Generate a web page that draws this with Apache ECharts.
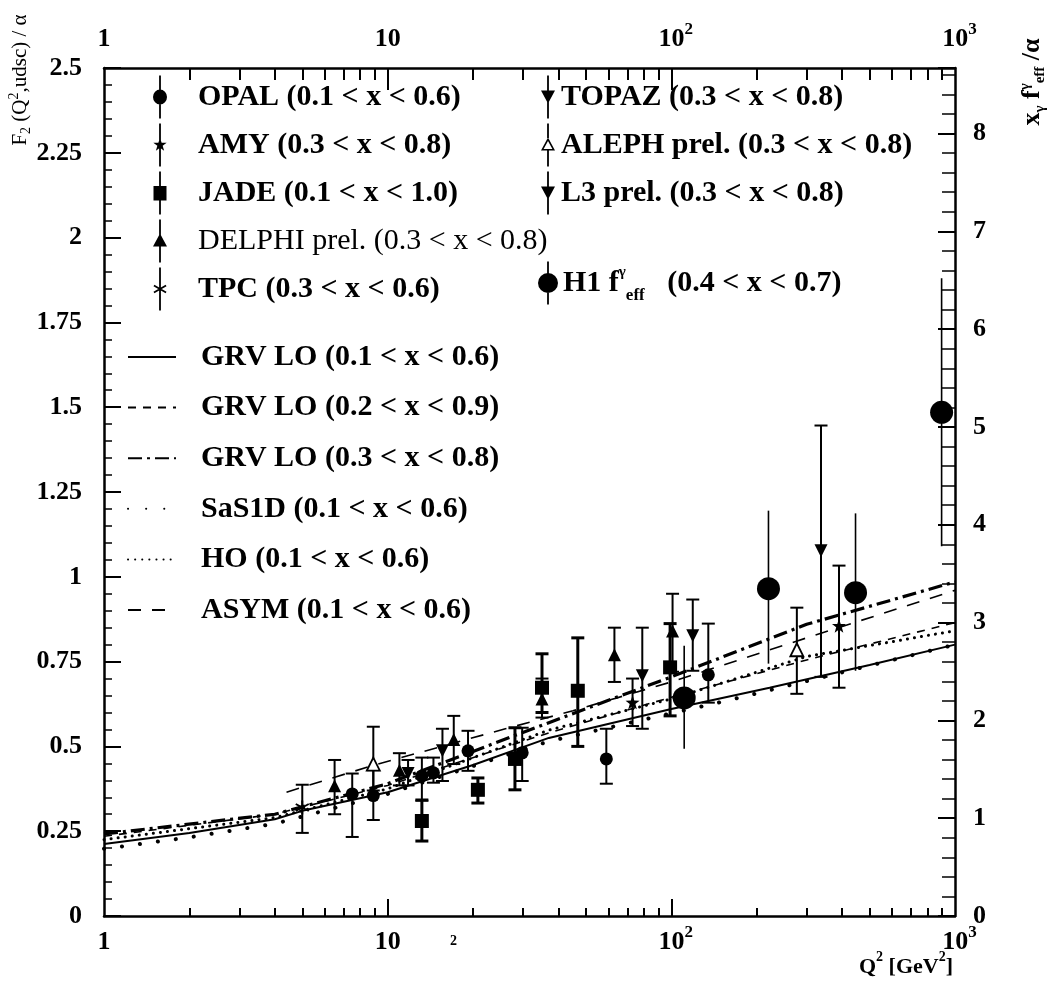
<!DOCTYPE html>
<html>
<head>
<meta charset="utf-8">
<script src="https://cdn.jsdelivr.net/npm/echarts@6/dist/echarts.min.js"></script>
<style>
  html, body { margin: 0; padding: 0; background: #ffffff; }
  #chart { width: 1057px; height: 1000px; }
</style>
</head>
<body>
<div id="chart"></div>
<script>
// ---------- axis ticks ----------
const decadeTicks = [1, 10, 100, 1000];
const majorTicks = [10, 100];
const minorTicks = [2, 3, 4, 5, 6, 7, 8, 9, 20, 30, 40, 50, 60, 70, 80, 90, 200, 300, 400, 500, 600, 700, 800, 900];
const rightMax = 8.67;   // x_gamma f_eff / alpha scale at F2/alpha = 2.5

// ---------- measurements: Q^2 [GeV^2], F2/alpha, lower and upper error ----------
const opalQ2 = [7.5, 8.9, 13.2, 14.5, 19.2, 29.8, 59, 135];
const opalF2 = [0.36, 0.355, 0.413, 0.422, 0.487, 0.481, 0.463, 0.711];
const opalLo = [0.233, 0.283, 0.34, 0.393, 0.428, 0.398, 0.39, 0.629];
const opalHi = [0.42, 0.43, 0.467, 0.467, 0.546, 0.555, 0.552, 0.862];

const amyQ2 = [73, 390];
const amyF2 = [0.63, 0.856];
const amyLo = [0.56, 0.673];
const amyHi = [0.70, 1.033];

const jadeQ2 = [13.2, 20.8, 28.1, 35, 46.8, 99];
const jadeF2 = [0.28, 0.372, 0.463, 0.673, 0.664, 0.733];
const jadeLo = [0.221, 0.333, 0.372, 0.60, 0.50, 0.59];
const jadeHi = [0.342, 0.407, 0.555, 0.773, 0.82, 0.862];

const delphiQ2 = [6.5, 11.0, 17.1, 35, 63, 101];
const delphiF2 = [0.384, 0.43, 0.52, 0.64, 0.77, 0.84];
const delphiLo = [0.30, 0.385, 0.448, 0.585, 0.69, 0.72];
const delphiHi = [0.46, 0.48, 0.59, 0.70, 0.85, 0.95];

const tpcQ2 = [5.0];
const tpcF2 = [0.32];
const tpcLo = [0.245];
const tpcHi = [0.387];

const topazQ2 = [15.6, 79];
const topazF2 = [0.487, 0.708];
const topazLo = [0.398, 0.552];
const topazHi = [0.552, 0.85];

const alephQ2 = [8.9, 277];
const alephF2 = [0.448, 0.785];
const alephLo = [0.37, 0.655];
const alephHi = [0.558, 0.909];

const l3Q2 = [11.8, 119, 337];
const l3F2 = [0.42, 0.826, 1.077];
const l3Lo = [0.385, 0.723, 0.705];
const l3Hi = [0.46, 0.933, 1.446];

const h1Q2 = [111, 220, 446, 897];
const h1F2 = [0.643, 0.965, 0.953, 1.485];
const h1Lo = [0.493, 0.744, 0.723, 1.09];
const h1Hi = [0.797, 1.195, 1.187, 1.88];

// ---------- predictions ----------
const grv1Q2 = [1, 2, 4, 5, 10, 20, 37, 100, 222, 500, 1000];
const grv1F2 = [0.212, 0.245, 0.285, 0.31, 0.365, 0.445, 0.525, 0.61, 0.673, 0.74, 0.80];

const grv2Q2 = [1, 4, 10, 37, 100, 300, 1000];
const grv2F2 = [0.235, 0.30, 0.385, 0.54, 0.645, 0.755, 0.865];

const grv3Q2 = [1, 4, 10, 37, 100, 300, 1000];
const grv3F2 = [0.242, 0.30, 0.39, 0.57, 0.705, 0.86, 0.985];

const sasQ2 = [1, 2, 4, 10, 37, 161, 1000];
const sasF2 = [0.198, 0.232, 0.272, 0.36, 0.515, 0.637, 0.80];

const hoQ2 = [1, 4, 10, 37, 100, 300, 1000];
const hoF2 = [0.225, 0.29, 0.375, 0.548, 0.64, 0.765, 0.841];

const asymQ2 = [4.4, 8.8, 26, 45, 100, 300, 1000];
const asymF2 = [0.365, 0.443, 0.552, 0.605, 0.69, 0.82, 0.96];

// ---------- labels ----------
const names = {
  opal: 'OPAL (0.1 < x < 0.6)',
  amy: 'AMY (0.3 < x < 0.8)',
  jade: 'JADE (0.1 < x < 1.0)',
  delphi: 'DELPHI prel. (0.3 < x < 0.8)',
  tpc: 'TPC (0.3 < x < 0.6)',
  topaz: 'TOPAZ (0.3 < x < 0.8)',
  aleph: 'ALEPH prel. (0.3 < x < 0.8)',
  l3: 'L3 prel. (0.3 < x < 0.8)',
  h1: 'H1 (0.4 < x < 0.7)',
  grv1: 'GRV LO (0.1 < x < 0.6)',
  grv2: 'GRV LO (0.2 < x < 0.9)',
  grv3: 'GRV LO (0.3 < x < 0.8)',
  sas: 'SaS1D (0.1 < x < 0.6)',
  ho: 'HO (0.1 < x < 0.6)',
  asym: 'ASYM (0.1 < x < 0.6)'
};

const SERIF = '"Liberation Serif", "Times New Roman", serif';
const LEGEND_SIZE = 30;

// ---------- marker shapes ----------
const STAR = 'path://M7 0.5L8.646 5.235L13.657 5.337L9.663 8.365L11.114 13.163L7 10.3L2.886 13.163L4.337 8.365L0.343 5.337L5.354 5.235Z';
const ASTERISK = 'path://M6.1 0H7.9V14H6.1Z M0.488 4.279L1.388 2.721L13.512 9.721L12.612 11.279Z M12.612 2.721L13.512 4.279L1.388 11.279L0.488 9.721Z';

// legend icons: marker with its vertical error bar
const BAR = 'M6.1 0H7.9V43H6.1Z ';
const icon = {
  opal: 'path://' + BAR + 'M0 21.5A7 7.5 0 1 1 14 21.5A7 7.5 0 1 1 0 21.5Z',
  amy: 'path://' + BAR + 'M7 14.5L8.646 19.235L13.657 19.337L9.663 22.365L11.114 27.163L7 24.3L2.886 27.163L4.337 22.365L0.343 19.337L5.354 19.235Z',
  jade: 'path://' + BAR + 'M0.5 14.5H13.5V29H0.5Z',
  delphi: 'path://' + BAR + 'M7 14L14 27L0 27Z',
  tpc: 'path://' + BAR + 'M0.488 18.779L1.388 17.221L13.512 24.221L12.612 25.779Z M12.612 17.221L13.512 18.779L1.388 25.779L0.488 24.221Z',
  down: 'path://' + BAR + 'M0 15L14 15L7 28Z',
  aleph: 'path://M6.1 0H7.9V14.5H6.1Z M6.1 27H7.9V43H6.1Z M7 14L14 27L0 27Z M7 17.6L2.6 25.4L11.4 25.4Z',
  h1: 'path://M9.1 0H10.9V43H9.1Z M0 21.5A10 10 0 1 1 20 21.5A10 10 0 1 1 0 21.5Z'
};

// ---------- helpers ----------
function pts(q, v) { return q.map((x, i) => [x, v[i]]); }
function spans(q, lo, hi) { return q.map((x, i) => [x, lo[i], hi[i]]); }

function errorBars(key, data, capHalf, width) {
  return {
    name: key + '-err', type: 'custom', z: 3, silent: true, animation: false,
    encode: { x: 0, y: [1, 2] },
    data: data,
    renderItem(params, api) {
      const lo = api.coord([api.value(0), api.value(1)]);
      const hi = api.coord([api.value(0), api.value(2)]);
      const style = { stroke: '#000', lineWidth: width };
      const children = [{ type: 'line', shape: { x1: lo[0], y1: lo[1], x2: hi[0], y2: hi[1] }, style: style }];
      if (capHalf > 0) {
        children.push({ type: 'line', shape: { x1: lo[0] - capHalf, y1: lo[1], x2: lo[0] + capHalf, y2: lo[1] }, style: style });
        children.push({ type: 'line', shape: { x1: hi[0] - capHalf, y1: hi[1], x2: hi[0] + capHalf, y2: hi[1] }, style: style });
      }
      return { type: 'group', children: children };
    }
  };
}

function markers(name, data, symbol, size, extra) {
  const base = {
    name: name, type: 'scatter', data: data, symbol: symbol, symbolSize: size, z: 5,
    itemStyle: { color: '#000', opacity: 1 }, animation: false, silent: true
  };
  const s = Object.assign(base, extra || {});
  s.itemStyle = Object.assign({ color: '#000', opacity: 1 }, (extra && extra.itemStyle) || {});
  return s;
}

function curve(name, q, v, lineStyle) {
  return {
    name: name, type: 'line', data: pts(q, v), symbol: 'none', showSymbol: false, smooth: false, z: 2,
    lineStyle: Object.assign({ color: '#000', opacity: 1 }, lineStyle), itemStyle: { color: '#000' },
    animation: false, silent: true
  };
}

// ---------- axes ----------
const labelRich = {
  n: { fontFamily: SERIF, fontWeight: 'bold', fontSize: 26, color: '#000', lineHeight: 34, verticalAlign: 'bottom' },
  s: { fontFamily: SERIF, fontWeight: 'bold', fontSize: 17, color: '#000', lineHeight: 20, padding: [0, 0, 14, 0], verticalAlign: 'bottom' },
  p: { width: 9, lineHeight: 20 }
};
function decadeLabel(v) {
  const e = Math.round(Math.log10(v));
  if (e === 0) return '{n|1}';
  if (e === 1) return '{n|10}';
  return '{p|}{n|10}{s|' + e + '}';
}
function xAx(position, opts) {
  return Object.assign({
    type: 'log', logBase: 10, min: 1, max: 1000, position: position, gridIndex: 0,
    axisLine: { show: false, onZero: false }, axisTick: { show: false }, axisLabel: { show: false },
    splitLine: { show: false }, minorTick: { show: false }, minorSplitLine: { show: false }
  }, opts);
}
const frameLine = { show: true, onZero: false, lineStyle: { color: '#000', width: 2.5 } };
const legendText = { fontFamily: SERIF, fontWeight: 'bold', fontSize: LEGEND_SIZE, color: '#000', lineHeight: 30 };

const option = {
  animation: false,
  backgroundColor: '#ffffff',
  textStyle: { fontFamily: SERIF, color: '#000' },
  grid: { left: 104, right: 102, top: 68, bottom: 84, containLabel: false },
  xAxis: [
    xAx('bottom', {
      axisLine: frameLine,
      axisTick: { show: true, inside: true, length: 17, customValues: majorTicks, lineStyle: { color: '#000', width: 2 } },
      axisLabel: { show: true, customValues: decadeTicks, margin: 5, formatter: decadeLabel, rich: labelRich }
    }),
    xAx('bottom', {
      axisTick: { show: true, inside: true, length: 8, customValues: minorTicks, lineStyle: { color: '#000', width: 2 } }
    }),
    xAx('top', {
      axisLine: frameLine,
      axisTick: { show: true, inside: true, length: 22, customValues: majorTicks, lineStyle: { color: '#000', width: 2 } },
      axisLabel: { show: true, customValues: decadeTicks, margin: 16, formatter: decadeLabel, rich: labelRich }
    }),
    xAx('top', {
      axisTick: { show: true, inside: true, length: 12, customValues: minorTicks, lineStyle: { color: '#000', width: 2 } }
    })
  ],
  yAxis: [
    {
      type: 'value', position: 'left', min: 0, max: 2.5, interval: 0.25,
      axisLine: frameLine,
      axisTick: { show: true, inside: true, length: 17, lineStyle: { color: '#000', width: 2 } },
      minorTick: { show: true, splitNumber: 5, length: 8, lineStyle: { color: '#000', width: 1.5 } },
      splitLine: { show: false },
      axisLabel: { color: '#000', fontFamily: SERIF, fontWeight: 'bold', fontSize: 26, margin: 22 }
    },
    {
      type: 'value', position: 'right', min: 0, max: rightMax, interval: 1,
      axisLine: frameLine,
      axisTick: { show: true, inside: true, length: 17, lineStyle: { color: '#000', width: 2 } },
      minorTick: { show: true, splitNumber: 5, length: 13, lineStyle: { color: '#000', width: 1.5 } },
      splitLine: { show: false },
      axisLabel: { color: '#000', fontFamily: SERIF, fontWeight: 'bold', fontSize: 26, margin: 18, showMaxLabel: false,
        formatter: v => (Math.abs(v - Math.round(v)) < 1e-6 ? String(Math.round(v)) : '') }
    }
  ],
  legend: [
    {
      data: [
        { name: names.opal, icon: icon.opal },
        { name: names.amy, icon: icon.amy },
        { name: names.jade, icon: icon.jade },
        { name: names.delphi, icon: icon.delphi, textStyle: { fontWeight: 'normal' } },
        { name: names.tpc, icon: icon.tpc }
      ],
      left: 153, top: 75.5, orient: 'vertical', itemWidth: 14, itemHeight: 43, itemGap: 5, padding: 0,
      selectedMode: false, itemStyle: { color: '#000', opacity: 1 },
      textStyle: Object.assign({ padding: [0, 0, 0, 26] }, legendText)
    },
    {
      data: [
        { name: names.topaz, icon: icon.down },
        { name: names.aleph, icon: icon.aleph, itemStyle: { color: '#000', borderWidth: 0, opacity: 1 } },
        { name: names.l3, icon: icon.down }
      ],
      left: 541, top: 75.5, orient: 'vertical', itemWidth: 14, itemHeight: 43, itemGap: 5, padding: 0,
      selectedMode: false, itemStyle: { color: '#000', opacity: 1 },
      textStyle: Object.assign({ padding: [0, 0, 0, 1] }, legendText)
    },
    {
      data: [{ name: names.h1, icon: icon.h1 }],
      left: 538, top: 261.5, orient: 'vertical', itemWidth: 20, itemHeight: 43, padding: 0,
      selectedMode: false, itemStyle: { color: '#000', opacity: 1 },
      formatter: () => '{t|H1 f}{g|γ}{e|eff}{t|   (0.4 < x < 0.7)}',
      textStyle: {
        fontFamily: SERIF, fontWeight: 'bold', fontSize: LEGEND_SIZE, color: '#000',
        rich: {
          t: { fontFamily: SERIF, fontWeight: 'bold', fontSize: LEGEND_SIZE, lineHeight: 30, verticalAlign: 'middle' },
          g: { fontFamily: SERIF, fontWeight: 'bold', fontSize: 15, lineHeight: 15, padding: [0, 0, 22, 0], verticalAlign: 'middle' },
          e: { fontFamily: SERIF, fontWeight: 'bold', fontSize: 17, lineHeight: 17, padding: [26, 0, 0, 0], verticalAlign: 'middle' }
        }
      }
    },
    {
      data: [names.grv1, names.grv2, names.grv3, names.sas, names.ho, names.asym],
      left: 127, top: 342, orient: 'vertical', itemWidth: 48, itemHeight: 30, itemGap: 20.6, padding: 0,
      selectedMode: false,
      itemStyle: { opacity: 0 },
      textStyle: Object.assign({ padding: [0, 0, 0, 20] }, legendText)
    }
  ],
  graphic: [
    {
      type: 'text', x: 20, y: 80, rotation: Math.PI / 2,
      style: {
        text: '{a|F}{b|2}{a| (Q}{c|2}{a|,udsc) / α}',
        align: 'center', verticalAlign: 'middle', fill: '#000',
        rich: {
          a: { fontFamily: SERIF, fontSize: 21, fill: '#000', lineHeight: 28, verticalAlign: 'middle' },
          b: { fontFamily: SERIF, fontSize: 14, fill: '#000', lineHeight: 14, padding: [12, 0, 0, 0], verticalAlign: 'middle' },
          c: { fontFamily: SERIF, fontSize: 14, fill: '#000', lineHeight: 14, padding: [0, 0, 12, 0], verticalAlign: 'middle' }
        }
      }
    },
    {
      type: 'text', x: 1032, y: 82, rotation: Math.PI / 2,
      style: {
        text: '{a|x}{b|γ}{a| f}{c|γ}{b|eff}{a| /α}',
        align: 'center', verticalAlign: 'middle', fill: '#000',
        rich: {
          a: { fontFamily: SERIF, fontWeight: 'bold', fontSize: 26, fill: '#000', lineHeight: 30, verticalAlign: 'middle' },
          b: { fontFamily: SERIF, fontWeight: 'bold', fontSize: 15, fill: '#000', lineHeight: 15, padding: [16, 0, 0, 0], verticalAlign: 'middle' },
          c: { fontFamily: SERIF, fontWeight: 'bold', fontSize: 15, fill: '#000', lineHeight: 15, padding: [0, 0, 14, 0], verticalAlign: 'middle' }
        }
      }
    },
    {
      type: 'text', right: 104, top: 950,
      style: {
        text: '{a|Q}{c|2}{a| [GeV}{c|2}{a|]}',
        fill: '#000',
        rich: {
          a: { fontFamily: SERIF, fontWeight: 'bold', fontSize: 22, fill: '#000', lineHeight: 28, verticalAlign: 'bottom' },
          c: { fontFamily: SERIF, fontWeight: 'bold', fontSize: 14, fill: '#000', lineHeight: 14, padding: [0, 0, 14, 0], verticalAlign: 'bottom' }
        }
      }
    },
    {
      type: 'text', x: 450, y: 934,
      style: { text: '2', fill: '#000', font: 'bold 14px ' + SERIF }
    }
  ],
  series: [
    // predictions
    curve(names.grv1, grv1Q2, grv1F2, { type: 'solid', width: 2 }),
    curve(names.grv2, grv2Q2, grv2F2, { type: [8, 7], width: 1.6 }),
    curve(names.grv3, grv3Q2, grv3F2, { type: [14, 5, 3, 5], width: 3.2 }),
    curve(names.sas, sasQ2, sasF2, { type: [0.1, 18], width: 4, cap: 'round' }),
    curve(names.ho, hoQ2, hoF2, { type: [0.1, 7], width: 3, cap: 'round' }),
    curve(names.asym, asymQ2, asymF2, { type: [13, 11], width: 1.6 }),

    // error bars
    errorBars('opal', spans(opalQ2, opalLo, opalHi), 6.5, 2),
    errorBars('amy', spans(amyQ2, amyLo, amyHi), 6.5, 2),
    errorBars('jade', spans(jadeQ2, jadeLo, jadeHi), 6.5, 3),
    errorBars('delphi', spans(delphiQ2, delphiLo, delphiHi), 6.5, 2),
    errorBars('tpc', spans(tpcQ2, tpcLo, tpcHi), 6.5, 2),
    errorBars('topaz', spans(topazQ2, topazLo, topazHi), 6.5, 2),
    errorBars('aleph', spans(alephQ2, alephLo, alephHi), 6.5, 2),
    errorBars('l3', spans(l3Q2, l3Lo, l3Hi), 6.5, 2),
    errorBars('h1', spans(h1Q2, h1Lo, h1Hi), 0, 1.6),

    // markers
    markers(names.opal, pts(opalQ2, opalF2), 'circle', 13),
    markers(names.amy, pts(amyQ2, amyF2), STAR, 14),
    markers(names.jade, pts(jadeQ2, jadeF2), 'rect', 14),
    markers(names.delphi, pts(delphiQ2, delphiF2), 'triangle', 13),
    markers(names.tpc, pts(tpcQ2, tpcF2), ASTERISK, 14),
    markers(names.topaz, pts(topazQ2, topazF2), 'triangle', 13, { symbolRotate: 180 }),
    markers(names.aleph, pts(alephQ2, alephF2), 'triangle', 13, { itemStyle: { color: '#fff', borderColor: '#000', borderWidth: 1.8, opacity: 1 } }),
    markers(names.l3, pts(l3Q2, l3F2), 'triangle', 13, { symbolRotate: 180 }),
    markers(names.h1, pts(h1Q2, h1F2), 'circle', 23)
  ]
};

const chart = echarts.init(document.getElementById('chart'), null, { renderer: 'canvas' });
chart.setOption(option);
</script>
</body>
</html>
